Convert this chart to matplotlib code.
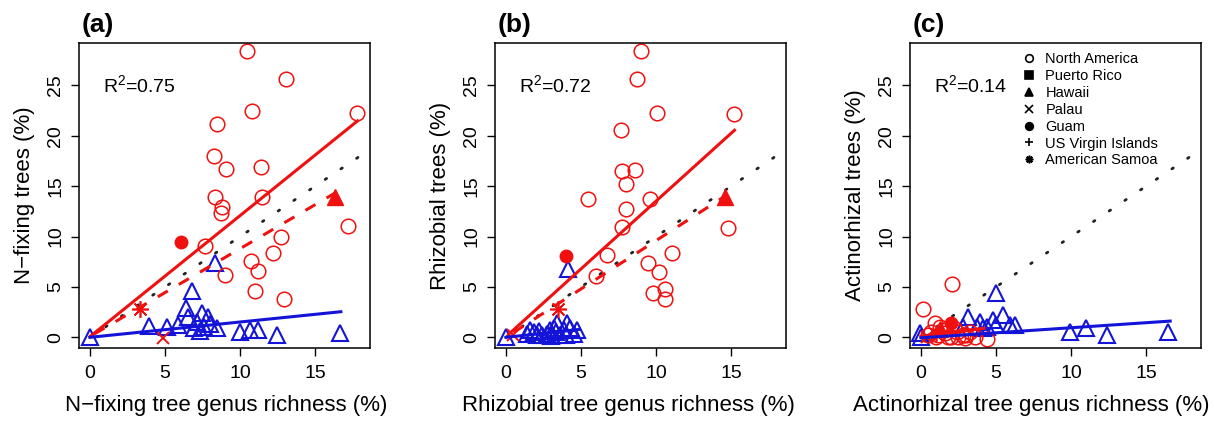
import numpy as np
import matplotlib.pyplot as plt
from matplotlib.lines import Line2D

plt.rcParams['font.family'] = ['Liberation Sans', 'DejaVu Sans']
plt.rcParams['mathtext.fontset'] = 'custom'
plt.rcParams['mathtext.rm'] = 'Liberation Sans'

RED = '#f01010'
BLUE = '#1414d8'

# ---- panel (a): N-fixing ----
na_x_a = [10.44, 13.04, 17.78, 10.81, 8.43, 8.28, 9.03, 11.39, 8.32, 11.48, 8.77,
          8.72, 17.18, 12.73, 7.63, 12.22, 10.7, 11.21, 8.99, 10.99, 12.93]
na_y_a = [28.41, 25.67, 22.3, 22.46, 21.2, 17.97, 16.65, 16.85, 13.88, 13.88, 12.95,
          12.29, 11.07, 9.98, 9.05, 8.33, 7.6, 6.6, 6.18, 4.59, 3.77]
tri_x_a = [0, 8.33, 6.77, 3.94, 5.1, 5.88, 6.39, 6.54, 7.44, 7.88, 7.1, 8.44, 9.99,
           10.66, 11.22, 12.44, 16.62, 6.9, 7.6, 7.3, 8.0]
tri_y_a = [0.06, 7.33, 4.59, 1.12, 0.99, 1.22, 2.87, 2.04, 2.38, 2.04, 1.55, 0.89,
           0.56, 0.72, 0.72, 0.23, 0.46, 0.9, 1.0, 0.6, 1.3]
isl_a = {'palau': (4.87, -0.1), 'guam': (6.03, 9.42), 'hawaii': (16.33, 13.94),
         'samoa': (3.32, 2.78)}
# (slope, intercept, x from, x to)
red_fit_a = (1.201, 0.07, 0.0, 17.82)
isl_fit_a = (0.872, 0.08, 0.3, 16.3)
blue_fit_a = (0.152, 0.0, 0.0, 16.71)

# ---- panel (b): rhizobial ----
na_x_b = [8.98, 8.71, 10.03, 15.22, 7.69, 5.48, 7.76, 8.6, 8.02, 9.6, 7.98, 7.76,
          14.78, 6.71, 11.03, 5.97, 9.47, 10.21, 9.81, 10.61, 10.59]
na_y_b = [28.41, 25.67, 22.27, 22.2, 20.55, 13.68, 16.52, 16.58, 15.26, 13.68, 12.69,
          10.97, 10.8, 8.16, 8.39, 6.08, 7.4, 6.51, 4.43, 4.76, 3.77]
tri_x_b = [0, 4.12, 1.62, 2.07, 2.4, 2.95, 3.17, 3.4, 3.84, 4.07, 4.29, 4.73, 1.9,
           2.7, 3.6, 4.5, 3.3, 2.2, 4.0, 3.0, 1.4]
tri_y_b = [0, 6.74, 0.72, 0.23, 0.23, 0.72, 0.89, 1.39, 0.72, 1.39, 0.89, 0.72, 0.5,
           0.3, 0.2, 0.3, 0.5, 0.6, 0.2, 0.1, 0.3]
isl_b = {'palau': (0.5, 0.2), 'guam': (4.03, 8.09), 'hawaii': (14.6, 13.94),
         'samoa': (3.45, 2.78)}
red_fit_b = (1.346, 0.06, 0.18, 15.22)
isl_fit_b = (0.96, 0.0, 0.5, 14.6)
blue_fit_b = (0.16, 0.0, 0.0, 4.9)

# ---- panel (c): actinorhizal ----
na_x_c = [0.15, 2.1, 0.93, 4.37, 1.48, 2.37, 1.15, 2.81, 1.82, 0.49, 3.26, 3.59, 1.0,
          1.6, 2.0, 2.5, 3.0, 1.3, 2.2, 0.7, 2.9]
na_y_c = [2.77, 5.25, 1.39, -0.2, 0.72, 0.56, 0.23, 0.23, 0.06, 0.23, 0.56, 0.06, 0.0,
          0.4, 0.0, 0.0, 0.2, 1.0, 0.9, 0.5, -0.1]
tri_x_c = [5.03, 3.15, 5.47, 3.92, 4.81, 6.25, 9.91, 11.02, 12.39, 16.44, -0.07, 2.81,
           4.37, 5.03, 0.0, 4.14, 5.92, 3.7]
tri_y_c = [4.36, 2.04, 2.21, 1.55, 1.71, 1.22, 0.56, 0.89, 0.23, 0.56, 0.4, 1.05,
           1.05, 1.22, 0.0, 0.89, 1.22, 1.06]
isl_c = {'palau': (0.4, 0.0), 'guam': (2.0, 1.4), 'hawaii': (1.3, 0.8),
         'samoa': (1.0, 0.3)}
red_fit_c = (0.19, 0.1, 0.0, 4.2)
isl_fit_c = None
blue_fit_c = (0.1, -0.05, 0.0, 16.6)

one_to_one = (0.0, 18.2)

panels = [
    ('(a)', 'N\u2212fixing tree genus richness (%)', 'N\u2212fixing trees (%)', '0.75',
     na_x_a, na_y_a, tri_x_a, tri_y_a, isl_a, red_fit_a, isl_fit_a, blue_fit_a),
    ('(b)', 'Rhizobial tree genus richness (%)', 'Rhizobial trees (%)', '0.72',
     na_x_b, na_y_b, tri_x_b, tri_y_b, isl_b, red_fit_b, isl_fit_b, blue_fit_b),
    ('(c)', 'Actinorhizal tree genus richness (%)', 'Actinorhizal trees (%)', '0.14',
     na_x_c, na_y_c, tri_x_c, tri_y_c, isl_c, red_fit_c, isl_fit_c, blue_fit_c),
]

legend_labels = ['North America', 'Puerto Rico', 'Hawaii', 'Palau', 'Guam',
                 'US Virgin Islands', 'American Samoa']
legend_markers = ['o', 's', '^', 'x', 'o', '+', (8, 2, 0)]
legend_filled = [False, True, True, False, True, False, False]

lefts = [79, 495, 910]
xlab_pos = [0.505, 0.46, 0.415]
fig = plt.figure(figsize=(12.14, 4.21), dpi=100)


def fit_line(ax, fit, **kw):
    slope, icpt, x0, x1 = fit
    xs = np.array([x0, x1])
    ax.plot(xs, icpt + slope * xs, **kw)


for i, (tag, xlab, ylab, r2, nx, ny, tx, ty, isl, rfit, ifit, bfit) in enumerate(panels):
    ax = fig.add_axes([lefts[i] / 1214, 73 / 421, 291 / 1214, 305 / 421])

    ax.plot(one_to_one, one_to_one, color='#222222', lw=2.0, ls=(0, (0.6, 6.2)),
            dash_capstyle='round')
    ax.plot(tx, ty, '^', mfc='none', mec=BLUE, ms=12, mew=1.5, ls='none')
    ax.plot(nx, ny, 'o', mfc='none', mec=RED, ms=10.5, mew=1.1, ls='none')
    ax.plot(*isl['palau'], 'x', color=RED, ms=8, mew=1.4)
    ax.plot(*isl['guam'], 'o', color=RED, ms=9)
    ax.plot(*isl['hawaii'], '^', color=RED, ms=11)
    ax.plot(*isl['samoa'], marker=(8, 2, 0), color=RED, ms=12, mew=1.2)

    fit_line(ax, rfit, color=RED, lw=2.2)
    if ifit is not None:
        fit_line(ax, ifit, color=RED, lw=2.2, ls=(0, (3.8, 4.2)))
    fit_line(ax, bfit, color=BLUE, lw=2.2)

    ax.set_xlim(-0.73, 18.65)
    ax.set_ylim(-1.06, 29.2)
    ax.set_xticks([0, 5, 10, 15])
    ax.set_yticks([0, 5, 10, 15, 20, 25])
    ax.tick_params(length=5.5, width=1, labelsize=14, colors='black')
    ax.tick_params(axis='x', pad=7)
    ax.tick_params(axis='y', pad=5)
    for lbl in ax.get_yticklabels():
        lbl.set_rotation(90)
        lbl.set_va('center')
    for s in ax.spines.values():
        s.set_linewidth(1.1)

    ax.set_xlabel(xlab, fontsize=16)
    ax.xaxis.set_label_coords(xlab_pos[i], -0.155)
    ax.set_ylabel(ylab, fontsize=16, labelpad=9)
    ax.text(3.3, 25, r'$\mathregular{R^2}$=' + r2, fontsize=14, ha='center', va='center')
    ax.text(0.01, 1.035, tag, transform=ax.transAxes, fontsize=19, fontweight='bold',
            ha='left', va='baseline')

    if i == 2:
        handles = []
        for m, f in zip(legend_markers, legend_filled):
            handles.append(Line2D([], [], ls='none', marker=m, color='black',
                                  mfc='black' if f else 'none', ms=5.5, mew=1.2))
        leg = ax.legend(handles, legend_labels, loc='upper left',
                        bbox_to_anchor=(0.38, 0.985), borderaxespad=0, fontsize=10.5,
                        frameon=True, fancybox=False, edgecolor='none',
                        facecolor='white', framealpha=1, handlelength=0.6,
                        handletextpad=0.8, labelspacing=0.2, borderpad=0.3)

fig.savefig('out.png', dpi=100)
